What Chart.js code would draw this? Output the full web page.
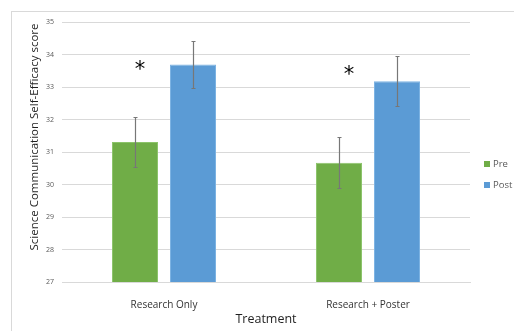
<!DOCTYPE html>
<html><head><meta charset="utf-8">
<script src="https://cdn.jsdelivr.net/npm/chart.js@4"></script>
<style>html,body{margin:0;padding:0;background:#fff;}#wrap{width:514px;height:331px;position:relative;}</style>
</head><body><div id="wrap"><canvas id="c" width="514" height="331"></canvas></div>
<script>
const categories = ["Research Only", "Research + Poster"];
const preValues = [31.31, 30.67];
const postValues = [33.69, 33.18];
const preErrors = [0.77, 0.78];
const postErrors = [0.72, 0.77];
const significance = ["*", "*"];
const significanceY = [33.63, 33.47];
const yTicks = [27, 28, 29, 30, 31, 32, 33, 34, 35];

const FONT = "'Open Sans', 'Liberation Sans', sans-serif";

const extras = {
  id: 'extras',
  beforeDraw(chart) {
    const ctx = chart.ctx;
    ctx.save();
    ctx.fillStyle = '#fff';
    ctx.fillRect(0, 0, chart.width, chart.height);
    ctx.strokeStyle = '#d9d9d9';
    ctx.lineWidth = 1;
    ctx.strokeRect(11.5, 11.5, 700, 500);
    ctx.restore();
  },
  afterDatasetsDraw(chart) {
    const ctx = chart.ctx;
    const ys = chart.scales.y;
    const errs = [preErrors, postErrors];
    ctx.save();
    ctx.strokeStyle = '#777777';
    ctx.lineWidth = 1.2;
    chart.data.datasets.forEach((ds, di) => {
      const meta = chart.getDatasetMeta(di);
      meta.data.forEach((bar, i) => {
        const v = ds.data[i];
        const e = errs[di][i];
        const x = Math.round(bar.x) + 0.5;
        const yt = ys.getPixelForValue(v + e);
        const yb = ys.getPixelForValue(v - e);
        ctx.beginPath();
        ctx.moveTo(x, yt); ctx.lineTo(x, yb);
        ctx.moveTo(x - 2, Math.round(yt) + 0.5); ctx.lineTo(x + 2, Math.round(yt) + 0.5);
        ctx.moveTo(x - 2, Math.round(yb) + 0.5); ctx.lineTo(x + 2, Math.round(yb) + 0.5);
        ctx.stroke();
      });
    });
    // significance markers
    const xs = chart.scales.x;
    const offs = [-24, -19];
    ctx.fillStyle = '#000';
    ctx.font = "21px 'DejaVu Sans', sans-serif";
    ctx.textAlign = 'center';
    ctx.textBaseline = 'middle';
    significance.forEach((s, i) => {
      const x = xs.getPixelForValue(i) + offs[i];
      const y = ys.getPixelForValue(significanceY[i]);
      ctx.fillText(s, x, y + 4);
    });
    // y title
    ctx.save();
    ctx.translate(35, 137);
    ctx.rotate(-Math.PI / 2);
    ctx.fillStyle = '#1f1f1f';
    ctx.font = "11.5px " + FONT;
    ctx.textAlign = 'center';
    ctx.textBaseline = 'middle';
    ctx.fillText("Science Communication Self-Efficacy score", 0, 0);
    ctx.restore();
    // legend
    ctx.font = "9.5px " + FONT;
    ctx.textAlign = 'left';
    ctx.textBaseline = 'middle';
    chart.data.datasets.forEach((ds, di) => {
      const cy = 164 + di * 21;
      ctx.fillStyle = ds.backgroundColor;
      ctx.fillRect(484, cy - 3, 6, 6);
      ctx.fillStyle = '#595959';
      ctx.fillText(ds.label, 493, cy);
    });
    ctx.restore();
  }
};

new Chart(document.getElementById('c'), {
  type: 'bar',
  data: {
    labels: categories,
    datasets: [
      { label: 'Pre', data: preValues, backgroundColor: '#70ad47', borderColor: '#8cc46a', borderWidth: 1 },
      { label: 'Post', data: postValues, backgroundColor: '#5b9bd5', borderColor: '#7db3e3', borderWidth: 1 }
    ]
  },
  options: {
    responsive: false,
    animation: false,
    devicePixelRatio: 1,
    layout: { padding: { left: 11, right: 44, top: 22, bottom: 0 } },
    categoryPercentage: 0.569,
    barPercentage: 0.793,
    plugins: { legend: { display: false }, tooltip: { enabled: false } },
    scales: {
      y: {
        min: 27, max: 35,
        afterFit(s) { s.width = 51; },
        afterBuildTicks(s) { s.ticks = yTicks.map(v => ({ value: v })); },
        ticks: { font: { size: 7, family: FONT }, color: '#595959', padding: 8 },
        grid: { color: '#d9d9d9', drawTicks: false },
        border: { display: false }
      },
      x: {
        afterFit(s) { s.height = 49; },
        ticks: { font: { size: 10, family: FONT }, color: '#333333', padding: 9 },
        grid: { display: false },
        border: { color: '#d9d9d9' },
        title: { display: true, text: 'Treatment', font: { size: 12.5, family: FONT }, color: '#1f1f1f', padding: { top: 1 } }
      }
    }
  },
  plugins: [extras]
});
</script></body></html>
